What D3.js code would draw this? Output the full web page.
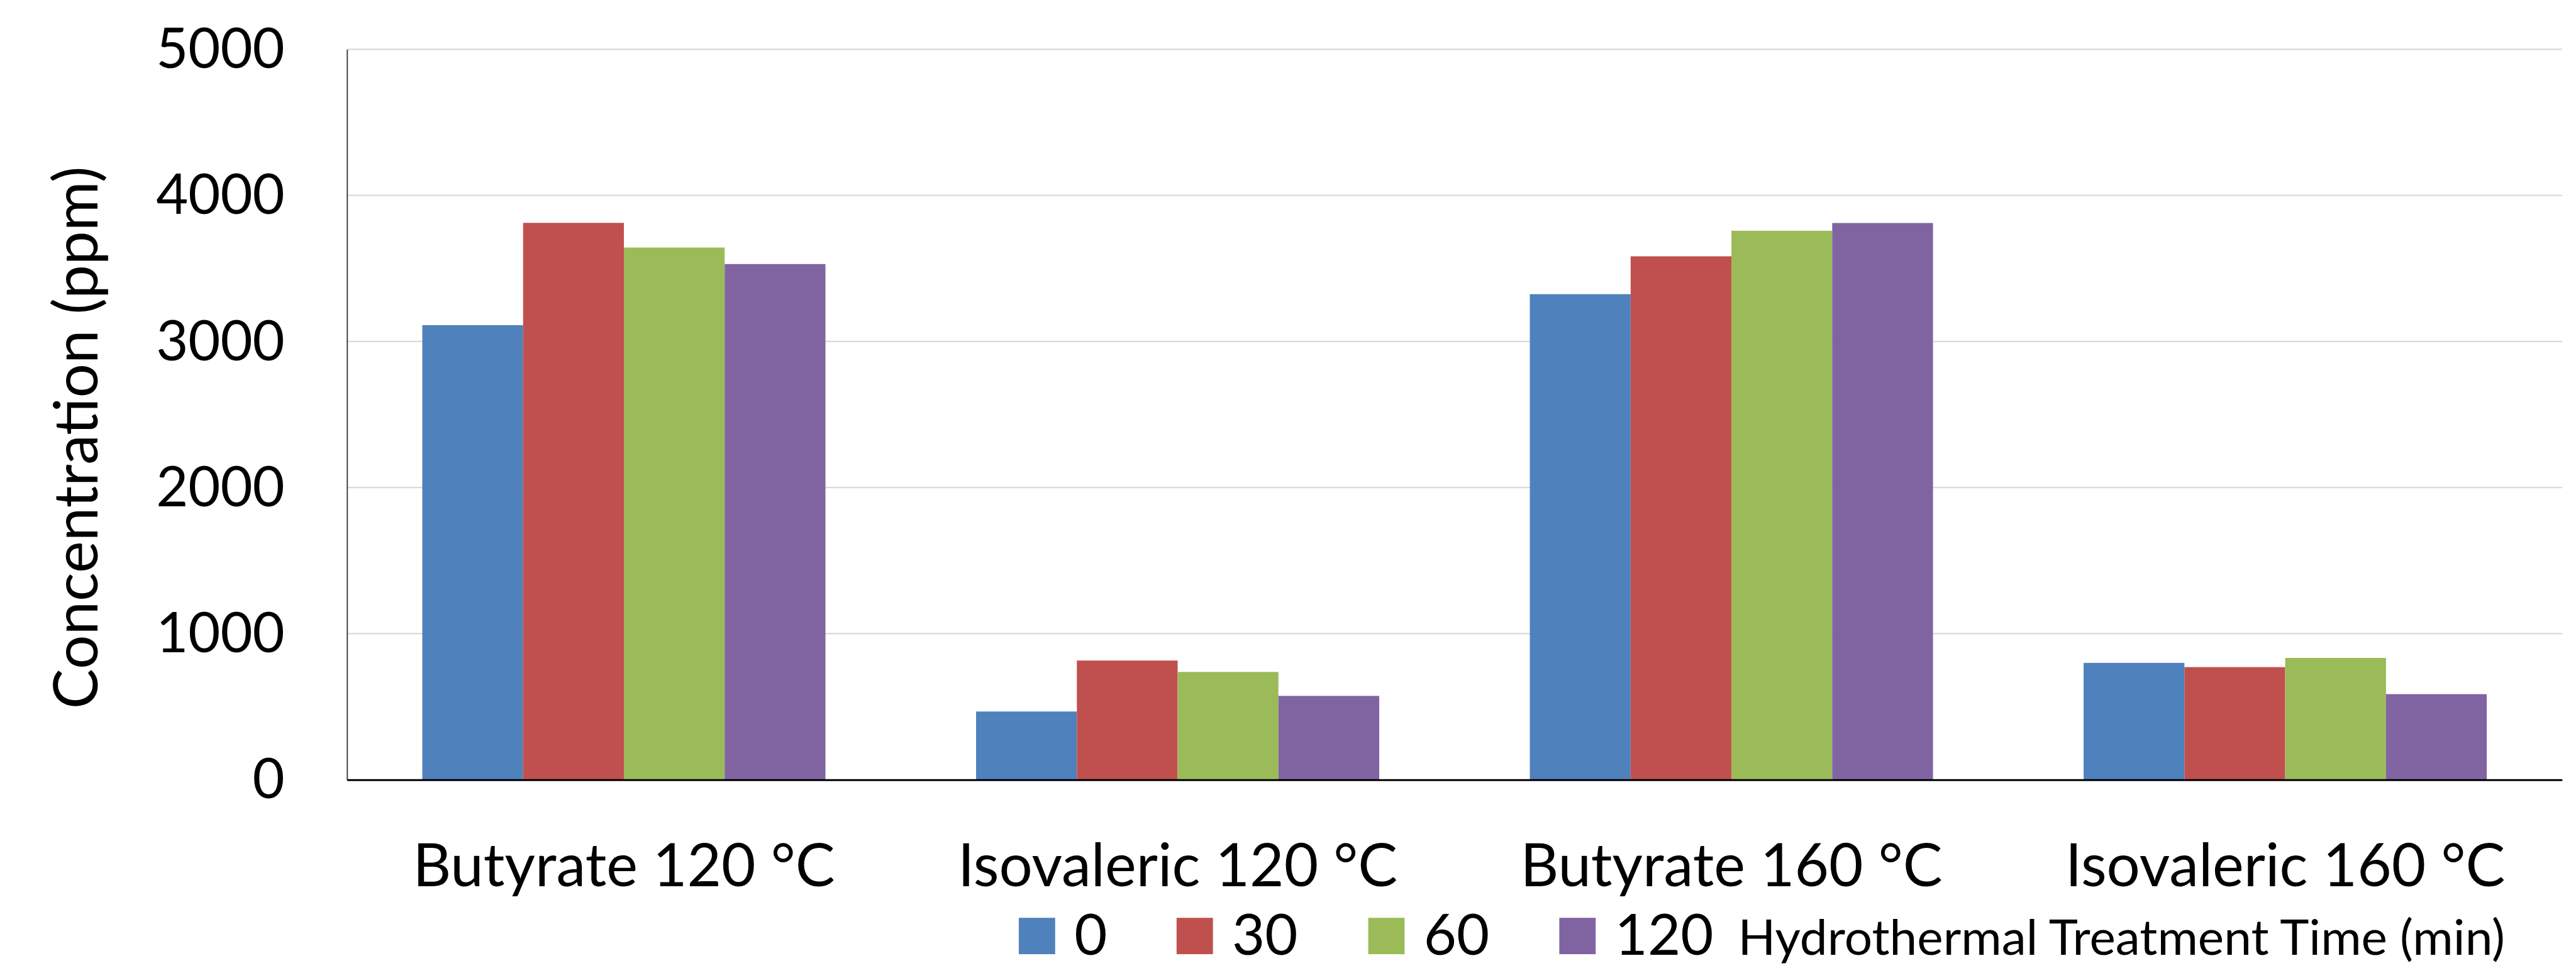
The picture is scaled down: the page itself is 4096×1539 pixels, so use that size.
<!DOCTYPE html>
<html>
<head>
<meta charset="utf-8">
<script src="https://cdn.jsdelivr.net/npm/d3@7"></script>
<style>
  html, body { margin: 0; padding: 0; background: #fff; overflow: hidden; }
  svg { display: block; }
  text { font-family: Lato, "Open Sans", sans-serif; fill: #000; }
</style>
</head>
<body>
<svg id="chart" width="4096" height="1539"></svg>
<script>
// ---- data ----
const categories = ["Butyrate 120 °C", "Isovaleric 120 °C", "Butyrate 160 °C", "Isovaleric 160 °C"];
const seriesNames = ["0", "30", "60", "120"];
const values0   = [3112, 467, 3324, 800];
const values30  = [3812, 816, 3583, 771];
const values60  = [3643, 738, 3758, 834];
const values120 = [3530, 574, 3811, 586];
const seriesColors = ["#4F81BD", "#C0504D", "#9BBB59", "#8064A2"];
const yTicks = [0, 1000, 2000, 3000, 4000, 5000];
const yTitle = "Concentration (ppm)";
const legendTitle = "Hydrothermal Treatment Time (min)";

const seriesValues = [values0, values30, values60, values120];

// ---- layout (reference pixel space, scaled by 0.98) ----
const S = 0.98;
const svg = d3.select("#chart");
const g = svg.append("g").attr("transform", `scale(${S})`);

const plotLeft = 563, plotRight = 4157, plotTop = 80, plotBottom = 1265;

const x = d3.scaleBand().domain(categories).range([plotLeft, plotRight])
  .paddingInner(0.272).paddingOuter(0.136);
const xs = d3.scaleBand().domain(seriesNames).range([0, x.bandwidth()]).padding(0);
const y = d3.scaleLinear().domain([0, 5000]).range([plotBottom, plotTop]);

// gridlines
g.append("g").selectAll("line").data(yTicks.filter(d => d > 0)).join("line")
  .attr("x1", plotLeft).attr("x2", plotRight)
  .attr("y1", d => y(d)).attr("y2", d => y(d))
  .attr("stroke", "#d9d9d9").attr("stroke-width", 2.2);

// bars
const groups = g.append("g").selectAll("g").data(categories).join("g")
  .attr("transform", c => `translate(${x(c)},0)`);
groups.selectAll("rect").data((c, ci) => seriesNames.map((s, si) => ({ s, si, v: seriesValues[si][ci] })))
  .join("rect")
  .attr("x", d => xs(d.s))
  .attr("width", xs.bandwidth())
  .attr("y", d => y(d.v))
  .attr("height", d => y(0) - y(d.v))
  .attr("fill", d => seriesColors[d.si]);

// y axis
const yAxis = g.append("g").attr("transform", `translate(${plotLeft},0)`)
  .call(d3.axisLeft(y).tickValues(yTicks).tickSize(0).tickPadding(101).tickFormat(d3.format("d")));
yAxis.select(".domain").attr("stroke", "#404040").attr("stroke-width", 2);
yAxis.selectAll("text").attr("font-size", 90).attr("font-family", "Lato").attr("dy", "0.33em").attr("fill", "#000");

// x axis
const xAxis = g.append("g").attr("transform", `translate(0,${plotBottom})`)
  .call(d3.axisBottom(x).tickSize(0).tickPadding(0));
xAxis.select(".domain").attr("stroke", "#000").attr("stroke-width", 3);
xAxis.selectAll("text").attr("font-size", 96).attr("font-family", "Lato")
  .attr("dy", null).attr("y", 1438 - plotBottom).attr("fill", "#000");

// y title
g.append("text")
  .attr("transform", `translate(158,710) rotate(-90)`)
  .attr("text-anchor", "middle")
  .attr("font-size", 98)
  .text(yTitle);

// legend
const legendX = [1653, 1909, 2220, 2530];
const legendBase = 1549;
const legend = g.append("g");
const items = legend.selectAll("g").data(seriesNames).join("g")
  .attr("transform", (d, i) => `translate(${legendX[i]},0)`);
items.append("rect").attr("x", 0).attr("y", legendBase - 60).attr("width", 59).attr("height", 59)
  .attr("fill", (d, i) => seriesColors[i]);
items.append("text").attr("x", 90).attr("y", legendBase).attr("font-size", 92).text(d => d);
legend.append("text").attr("x", 2820).attr("y", legendBase).attr("font-size", 80).text(legendTitle);
</script>
</body>
</html>
